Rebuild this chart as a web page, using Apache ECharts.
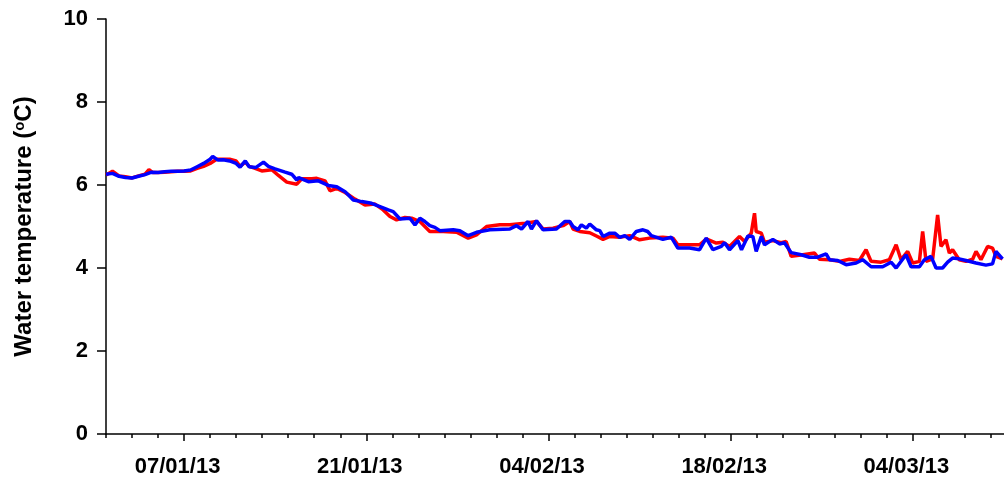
<!DOCTYPE html>
<html>
<head>
<meta charset="utf-8">
<script src="https://cdn.jsdelivr.net/npm/echarts@6/dist/echarts.min.js"></script>
<style>html,body{margin:0;padding:0;background:#fff;}#chart{width:1004px;height:480px;}</style>
</head>
<body>
<div id="chart"></div>
<script>
// x values are days since 01/01/13
var majorTickDays = [6, 20, 34, 48, 62];
var tickLabels = ['07/01/13', '21/01/13', '04/02/13', '18/02/13', '04/03/13'];
var minorTickDays = [0,2,4,6,8,10,12,14,16,18,20,22,24,26,28,30,32,34,36,38,40,42,44,46,48,50,52,54,56,58,60,62,64,66,68];

var redDays = [0,0.5,1,1.5,2,2.5,3,3.3,3.6,4,4.5,5,5.5,6,6.5,7,7.5,8,8.5,9,9.5,10,10.3,10.7,11,11.46,11.97,12.74,13.25,13.89,14.66,15.04,15.81,16.19,16.83,17.21,17.73,18.37,19.13,19.9,20.67,21.3,21.82,22.33,22.97,23.48,24.12,24.88,25.91,26.94,27.83,28.47,29.24,30.26,31.03,32.2,33.08,33.58,34.35,35.12,35.63,35.89,36.4,37.17,37.68,38.19,38.71,39.47,40.24,41.0,41.77,42.79,43.56,43.94,44.84,45.61,46.12,46.89,47.4,47.91,48.68,49.07,49.58,49.83,49.96,50.35,50.6,51.24,51.88,52.26,52.65,53.54,54.44,54.82,55.59,56.36,57.12,57.89,58.4,58.79,59.55,60.19,60.71,61.09,61.6,61.98,62.5,62.75,63.01,63.52,63.9,64.16,64.54,64.8,65.05,65.56,66.08,66.59,66.85,67.23,67.74,68.12,68.38,68.89];
var redTemps = [6.24,6.33,6.22,6.20,6.17,6.22,6.26,6.37,6.30,6.30,6.31,6.32,6.33,6.33,6.34,6.40,6.45,6.52,6.62,6.62,6.62,6.58,6.45,6.55,6.45,6.40,6.34,6.37,6.23,6.07,6.02,6.15,6.15,6.16,6.10,5.86,5.92,5.82,5.66,5.52,5.54,5.40,5.24,5.16,5.22,5.20,5.12,4.88,4.88,4.86,4.72,4.80,5.00,5.04,5.04,5.08,5.12,4.94,4.96,5.02,5.12,4.94,4.88,4.85,4.77,4.69,4.76,4.74,4.78,4.68,4.72,4.74,4.72,4.56,4.56,4.56,4.70,4.60,4.62,4.52,4.76,4.64,4.84,5.32,4.88,4.84,4.62,4.66,4.61,4.64,4.28,4.32,4.36,4.21,4.20,4.16,4.21,4.18,4.44,4.16,4.14,4.20,4.56,4.20,4.40,4.12,4.16,4.88,4.16,4.22,5.28,4.52,4.68,4.36,4.44,4.20,4.16,4.21,4.40,4.20,4.52,4.48,4.28,4.22];

var blueDays = [0,0.5,1,1.5,2,2.5,3,3.5,4,4.5,5,5.5,6,6.5,7,7.5,8,8.2,8.6,9,9.5,10,10.3,10.7,11,11.5,12.1,12.48,12.99,13.76,14.27,14.66,14.8,15.55,16.32,17.08,17.73,18.37,19.0,19.65,20.41,21.05,21.69,22.07,22.59,23.35,23.74,24.12,24.5,24.88,25.27,25.65,26.68,27.19,27.83,28.47,29.49,31.03,31.54,31.93,32.43,32.69,33.08,33.58,34.61,35.25,35.63,35.89,36.27,36.53,36.91,37.17,37.68,37.94,38.19,38.71,39.09,39.47,39.86,40.24,40.75,41.26,41.62,41.9,42.79,43.44,43.94,44.84,45.61,46.12,46.63,47.28,47.53,47.91,48.55,48.83,49.32,49.70,49.96,50.35,50.6,51.24,51.75,52.13,52.65,53.42,54.05,54.69,55.33,55.59,56.22,56.87,57.64,58.14,58.79,59.68,60.32,60.71,61.47,61.86,62.5,62.88,63.39,63.78,64.28,64.67,65.05,65.56,66.08,66.85,67.61,68.12,68.38,68.89];
var blueTemps = [6.26,6.28,6.21,6.18,6.17,6.21,6.25,6.31,6.30,6.32,6.33,6.33,6.34,6.36,6.44,6.52,6.62,6.69,6.60,6.61,6.58,6.52,6.43,6.58,6.44,6.42,6.55,6.45,6.39,6.31,6.26,6.12,6.18,6.08,6.10,5.99,5.96,5.84,5.64,5.60,5.56,5.48,5.40,5.36,5.18,5.20,5.04,5.20,5.12,5.02,4.98,4.90,4.92,4.90,4.78,4.86,4.92,4.94,5.02,4.94,5.12,4.94,5.14,4.92,4.94,5.12,5.12,5.00,4.92,5.04,4.96,5.06,4.92,4.90,4.76,4.84,4.84,4.74,4.78,4.69,4.88,4.92,4.88,4.78,4.69,4.74,4.48,4.48,4.44,4.72,4.44,4.52,4.61,4.44,4.66,4.44,4.77,4.76,4.40,4.76,4.56,4.69,4.58,4.61,4.37,4.32,4.26,4.26,4.34,4.20,4.18,4.08,4.12,4.20,4.03,4.03,4.14,4.00,4.32,4.03,4.03,4.20,4.28,4.00,4.00,4.14,4.24,4.22,4.18,4.12,4.07,4.10,4.40,4.22];

function pairs(xs, ys) { return xs.map(function (x, i) { return [x, ys[i]]; }); }

var FONT = 'Liberation Sans, Arial, sans-serif';
var chart = echarts.init(document.getElementById('chart'), null, { renderer: 'canvas' });
chart.setOption({
  animation: false,
  backgroundColor: '#ffffff',
  grid: { left: 106, top: 19, width: 899, height: 415, containLabel: false },
  xAxis: [{
    type: 'value', min: 0, max: 69, position: 'bottom', offset: 0,
    axisLine: { show: true, lineStyle: { color: '#000', width: 1.5 } },
    axisTick: { show: true, customValues: majorTickDays, length: 7, inside: false, lineStyle: { color: '#000', width: 1.5 } },
    axisLabel: {
      show: true, customValues: majorTickDays, margin: 22, padding: [0, 13, 0, 0],
      fontFamily: FONT, fontWeight: 'bold', fontSize: 22, color: '#000',
      formatter: function (v) { var i = majorTickDays.indexOf(Math.round(v)); return i >= 0 ? tickLabels[i] : ''; }
    },
    splitLine: { show: false }
  }, {
    type: 'value', min: 0, max: 69, position: 'bottom', offset: 0,
    axisLine: { show: false },
    axisTick: { show: true, customValues: minorTickDays, length: 4, lineStyle: { color: '#000', width: 1.5 } },
    axisLabel: { show: false },
    splitLine: { show: false }
  }],
  yAxis: {
    type: 'value', min: 0, max: 10, interval: 2,
    name: 'Water temperature ({sup|o}C)', nameLocation: 'middle', nameGap: 70, nameRotate: 90,
    nameTextStyle: {
      fontFamily: FONT, fontWeight: 'bold', fontSize: 24, color: '#000',
      rich: { sup: { fontFamily: FONT, fontWeight: 'bold', fontSize: 15, color: '#000', verticalAlign: 'top', padding: [0, 0, 9, 0] } }
    },
    axisLine: { show: true, lineStyle: { color: '#000', width: 1.5 } },
    axisTick: { show: true, length: 9, lineStyle: { color: '#000', width: 1.5 } },
    axisLabel: { margin: 18, fontFamily: FONT, fontWeight: 'bold', fontSize: 22, color: '#000' },
    splitLine: { show: false }
  },
  series: [{
    type: 'line', name: 'red', xAxisIndex: 0, data: pairs(redDays, redTemps),
    showSymbol: false, symbol: 'none', lineStyle: { color: '#ff0000', width: 3.5 }, itemStyle: { color: '#ff0000' }
  }, {
    type: 'line', name: 'blue', xAxisIndex: 0, data: pairs(blueDays, blueTemps),
    showSymbol: false, symbol: 'none', lineStyle: { color: '#0000ff', width: 3.5 }, itemStyle: { color: '#0000ff' }
  }]
});
</script>
</body>
</html>
